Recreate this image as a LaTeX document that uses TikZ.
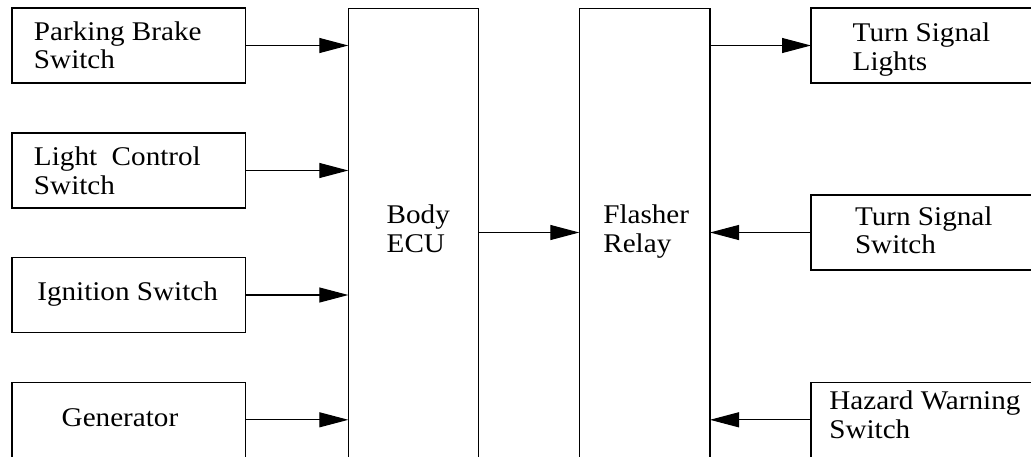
\documentclass[tikz,border=0pt]{standalone}
\usepackage{fontspec}
\setmainfont{Liberation Serif}[FakeStretch=1.08]
\usetikzlibrary{arrows.meta}
\begin{document}
\begin{tikzpicture}[x=1pt,y=-1pt,
  blk/.style={draw,line width=1.5pt,inner sep=0pt,outer sep=0pt,anchor=north west},
  txt/.style={inner sep=0pt,outer sep=0pt,anchor=base west,align=left,font=\fontsize{27}{28.5}\selectfont},
  arr/.style={line width=1.1pt,-{Triangle[length=29pt,width=15pt]}}]
\clip (0,0) rectangle (1031,456);
\fill[white] (0,0) rectangle (1031,456);
% left boxes
\node[blk,minimum width=233.5pt,minimum height=75pt] (pb) at (12,8) {};
\node[blk,minimum width=233.5pt,minimum height=75pt] (lc) at (12,133) {};
\node[blk,minimum width=233.5pt,minimum height=75pt] (ig) at (12,257.5) {};
\node[blk,minimum width=233.5pt,minimum height=75pt] (gen) at (12,382.3) {};
% middle boxes
\node[blk,minimum width=130pt,minimum height=470pt] (ecu) at (348.3,8.3) {};
\node[blk,minimum width=130.7pt,minimum height=470pt] (rel) at (579.3,8.3) {};
% right boxes
\node[blk,minimum width=240pt,minimum height=75pt] (tsl) at (811,8) {};
\node[blk,minimum width=240pt,minimum height=75pt] (tss) at (811,195) {};
\node[blk,minimum width=240pt,minimum height=75pt] (haz) at (811,382.3) {};
% texts (anchor = baseline of last line)
\node[txt] (tpb) at (34,68.8) {Parking Brake\\Switch};
\node[txt] (tlc) at (34,194) {Light\ \ Control\\Switch};
\node[txt] (tig) at (37.3,300.7) {Ignition Switch};
\node[txt] (tgen) at (61.7,426.7) {Generator};
\node[txt] (tecu) at (386.7,252) {Body\\ECU};
\node[txt] (trel) at (603.3,252) {Flasher\\Relay};
\node[txt] (ttsl) at (852.7,70) {Turn Signal\\Lights};
\node[txt] (ttss) at (855,253.5) {Turn Signal\\Switch};
\node[txt] (thaz) at (829.3,438) {Hazard Warning\\Switch};
% connectors
\draw[arr] (pb.east) -- (ecu.west |- pb.east);
\draw[arr] (lc.east) -- (ecu.west |- lc.east);
\draw[arr] (ig.east) -- (ecu.west |- ig.east);
\draw[arr] (gen.east) -- (ecu.west |- gen.east);
\draw[arr] (ecu.east |- tss.west) -- (rel.west |- tss.west);
\draw[arr] (rel.east |- tsl.west) -- (tsl.west);
\draw[arr] (tss.west) -- (rel.east |- tss.west);
\draw[arr] (haz.west) -- (rel.east |- haz.west);
\end{tikzpicture}
\end{document}
